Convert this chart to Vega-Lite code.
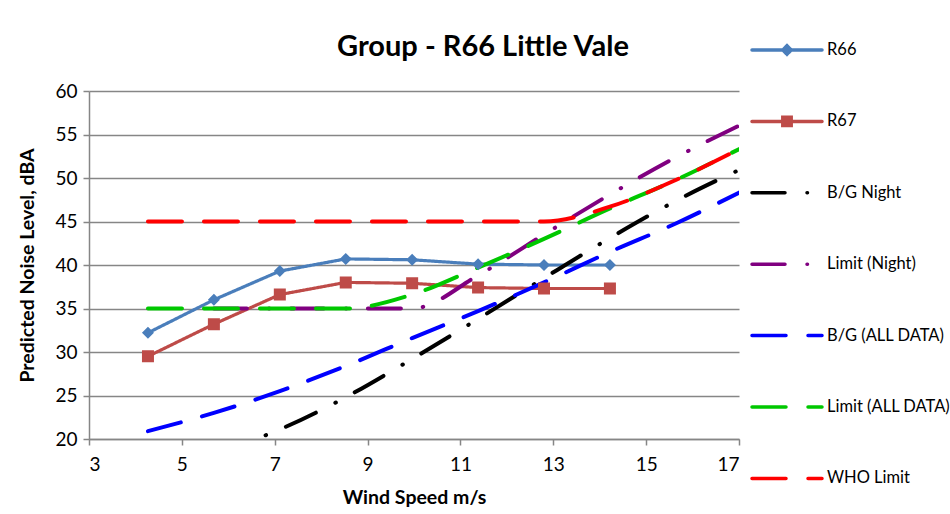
{
  "$schema": "https://vega.github.io/schema/vega-lite/v6.json",
  "autosize": "none",
  "width": 650,
  "height": 348,
  "padding": {"left": 89, "top": 91, "right": 211, "bottom": 75},
  "background": "white",
  "title": {"text": "Group - R66 Little Vale", "font": "Lato", "fontSize": 29, "fontWeight": "bold", "color": "black", "anchor": "middle", "dx": 69, "offset": -47},
  "config": {"view": {"stroke": null}, "font": "Lato"},
  "data": {"values": [
    {"s": "R66", "x": 4.27, "y": 32.2}, {"s": "R66", "x": 5.69, "y": 36.0}, {"s": "R66", "x": 7.11, "y": 39.3}, {"s": "R66", "x": 8.53, "y": 40.7}, {"s": "R66", "x": 9.96, "y": 40.6}, {"s": "R66", "x": 11.38, "y": 40.1}, {"s": "R66", "x": 12.80, "y": 40.0}, {"s": "R66", "x": 14.22, "y": 40.0},
    {"s": "R67", "x": 4.27, "y": 29.5}, {"s": "R67", "x": 5.69, "y": 33.2}, {"s": "R67", "x": 7.11, "y": 36.6}, {"s": "R67", "x": 8.53, "y": 38.0}, {"s": "R67", "x": 9.96, "y": 37.9}, {"s": "R67", "x": 11.38, "y": 37.4}, {"s": "R67", "x": 12.80, "y": 37.3}, {"s": "R67", "x": 14.22, "y": 37.3},
    {"s": "B/G Night", "x": 5.69, "y": 18.3}, {"s": "B/G Night", "x": 7.11, "y": 21.1}, {"s": "B/G Night", "x": 8.53, "y": 24.8}, {"s": "B/G Night", "x": 9.96, "y": 29.2}, {"s": "B/G Night", "x": 11.38, "y": 33.8}, {"s": "B/G Night", "x": 12.80, "y": 38.5}, {"s": "B/G Night", "x": 14.22, "y": 43.1}, {"s": "B/G Night", "x": 15.65, "y": 47.4}, {"s": "B/G Night", "x": 17.07, "y": 51.1},
    {"s": "Limit (Night)", "x": 5.69, "y": 35}, {"s": "Limit (Night)", "x": 7.11, "y": 35}, {"s": "Limit (Night)", "x": 8.53, "y": 35}, {"s": "Limit (Night)", "x": 9.96, "y": 35}, {"s": "Limit (Night)", "x": 11.38, "y": 38.8}, {"s": "Limit (Night)", "x": 12.80, "y": 43.5}, {"s": "Limit (Night)", "x": 14.22, "y": 48.1}, {"s": "Limit (Night)", "x": 15.65, "y": 52.4}, {"s": "Limit (Night)", "x": 17.07, "y": 56.2},
    {"s": "B/G (ALL DATA)", "x": 4.27, "y": 20.9}, {"s": "B/G (ALL DATA)", "x": 5.69, "y": 23.0}, {"s": "B/G (ALL DATA)", "x": 7.11, "y": 25.5}, {"s": "B/G (ALL DATA)", "x": 8.53, "y": 28.4}, {"s": "B/G (ALL DATA)", "x": 9.96, "y": 31.6}, {"s": "B/G (ALL DATA)", "x": 11.38, "y": 34.7}, {"s": "B/G (ALL DATA)", "x": 12.80, "y": 38.0}, {"s": "B/G (ALL DATA)", "x": 14.22, "y": 41.5}, {"s": "B/G (ALL DATA)", "x": 15.65, "y": 44.8}, {"s": "B/G (ALL DATA)", "x": 17.07, "y": 48.5},
    {"s": "Limit (ALL DATA)", "x": 4.27, "y": 35}, {"s": "Limit (ALL DATA)", "x": 5.69, "y": 35}, {"s": "Limit (ALL DATA)", "x": 7.11, "y": 35}, {"s": "Limit (ALL DATA)", "x": 8.53, "y": 35}, {"s": "Limit (ALL DATA)", "x": 9.96, "y": 36.6}, {"s": "Limit (ALL DATA)", "x": 11.38, "y": 39.7}, {"s": "Limit (ALL DATA)", "x": 12.80, "y": 43.0}, {"s": "Limit (ALL DATA)", "x": 14.22, "y": 46.5}, {"s": "Limit (ALL DATA)", "x": 15.65, "y": 49.8}, {"s": "Limit (ALL DATA)", "x": 17.07, "y": 53.5},
    {"s": "WHO Limit", "x": 4.27, "y": 45}, {"s": "WHO Limit", "x": 5.69, "y": 45}, {"s": "WHO Limit", "x": 7.11, "y": 45}, {"s": "WHO Limit", "x": 8.53, "y": 45}, {"s": "WHO Limit", "x": 9.96, "y": 45}, {"s": "WHO Limit", "x": 11.38, "y": 45}, {"s": "WHO Limit", "x": 12.80, "y": 45}, {"s": "WHO Limit", "x": 14.22, "y": 46.7}, {"s": "WHO Limit", "x": 15.65, "y": 49.8}, {"s": "WHO Limit", "x": 17.07, "y": 53.5}
  ]},
  "encoding": {
    "x": {"field": "x", "type": "quantitative", "scale": {"domain": [3, 17], "nice": false, "zero": false},
      "axis": {"title": "Wind Speed m/s", "values": [3, 5, 7, 9, 11, 13, 15, 17], "grid": false, "domainColor": "#868686", "domainWidth": 1.5, "tickColor": "#868686", "tickWidth": 1.5, "tickSize": 6, "labelPadding": 10, "labelFont": "Lato", "labelFontSize": 19, "labelColor": "black", "titleFont": "Lato", "titleFontSize": 19.5, "titleFontWeight": "bold", "titleColor": "black", "titlePadding": 14}},
    "y": {"field": "y", "type": "quantitative", "scale": {"domain": [20, 60], "nice": false, "zero": false},
      "axis": {"title": "Predicted Noise Level, dBA", "values": [20, 25, 30, 35, 40, 45, 50, 55, 60], "grid": true, "gridColor": "#868686", "gridWidth": 1.5, "domainColor": "#868686", "domainWidth": 1.5, "tickColor": "#868686", "tickWidth": 1.5, "tickSize": 6, "labelPadding": 6, "labelFont": "Lato", "labelFontSize": 19, "labelColor": "black", "titleFont": "Lato", "titleFontSize": 19.5, "titleFontWeight": "bold", "titleColor": "black", "titlePadding": 17}},
    "color": {"field": "s", "type": "nominal", "sort": ["R66", "R67", "B/G Night", "Limit (Night)", "B/G (ALL DATA)", "Limit (ALL DATA)", "WHO Limit"],
      "scale": {"domain": ["R66", "R67", "B/G Night", "Limit (Night)", "B/G (ALL DATA)", "Limit (ALL DATA)", "WHO Limit"], "range": ["#4A7EBB", "#BE4B48", "#000000", "#800080", "#0000FF", "#00C800", "#FF0000"]},
      "legend": {"title": null, "orient": "none", "legendX": 661, "legendY": -76, "padding": 0, "symbolSize": 4900, "symbolStrokeWidth": 3.5, "symbolOpacity": 1, "clipHeight": 70, "rowPadding": 1.4, "labelOffset": 3, "labelFont": "Lato", "labelFontSize": 16.5, "labelColor": "black", "labelLimit": 200,
        "encode": {"symbols": {"update": {"fill": {"scale": "color", "field": "value"}, "stroke": {"scale": "color", "field": "value"}, "strokeCap": {"value": "round"}}}}}}
  },
  "layer": [
    {
      "transform": [{"filter": "datum.s == 'R66' || datum.s == 'R67'"}],
      "mark": {"type": "line", "strokeWidth": 3.2, "clip": true},
      "encoding": {
        "strokeDash": {"field": "s", "type": "nominal", "sort": ["R66", "R67", "B/G Night", "Limit (Night)", "B/G (ALL DATA)", "Limit (ALL DATA)", "WHO Limit"],
          "scale": {"domain": ["R66", "R67", "B/G Night", "Limit (Night)", "B/G (ALL DATA)", "Limit (ALL DATA)", "WHO Limit"], "range": [[1, 0], [1, 0], [33, 22, 0.5, 21.5], [33, 22, 0.5, 21.5], [34, 22], [34, 22], [34, 22]]}}
      }
    },
    {
      "transform": [{"filter": "datum.s != 'R66' && datum.s != 'R67'"}],
      "mark": {"type": "line", "strokeWidth": 4, "strokeCap": "round", "interpolate": "monotone", "clip": true},
      "encoding": {
        "strokeDash": {"field": "s", "type": "nominal", "sort": ["R66", "R67", "B/G Night", "Limit (Night)", "B/G (ALL DATA)", "Limit (ALL DATA)", "WHO Limit"],
          "scale": {"domain": ["R66", "R67", "B/G Night", "Limit (Night)", "B/G (ALL DATA)", "Limit (ALL DATA)", "WHO Limit"], "range": [[1, 0], [1, 0], [33, 22, 0.5, 21.5], [33, 22, 0.5, 21.5], [34, 22], [34, 22], [34, 22]]}}
      }
    },
    {
      "transform": [{"filter": "datum.s == 'R66' || datum.s == 'R67'"}],
      "mark": {"type": "point", "filled": true, "size": 10000, "strokeWidth": 0, "opacity": 1, "clip": true},
      "encoding": {
        "shape": {"field": "s", "type": "nominal", "sort": ["R66", "R67", "B/G Night", "Limit (Night)", "B/G (ALL DATA)", "Limit (ALL DATA)", "WHO Limit"],
          "scale": {"domain": ["R66", "R67", "B/G Night", "Limit (Night)", "B/G (ALL DATA)", "Limit (ALL DATA)", "WHO Limit"], "range": ["M-1,0H1M0,-0.12L0.12,0L0,0.12L-0.12,0Z", "M-1,0H1M-0.12,-0.12H0.12V0.12H-0.12Z", "M-1,0H1", "M-1,0H1", "M-1,0H1", "M-1,0H1", "M-1,0H1"]}}
      }
    }
  ]
}
